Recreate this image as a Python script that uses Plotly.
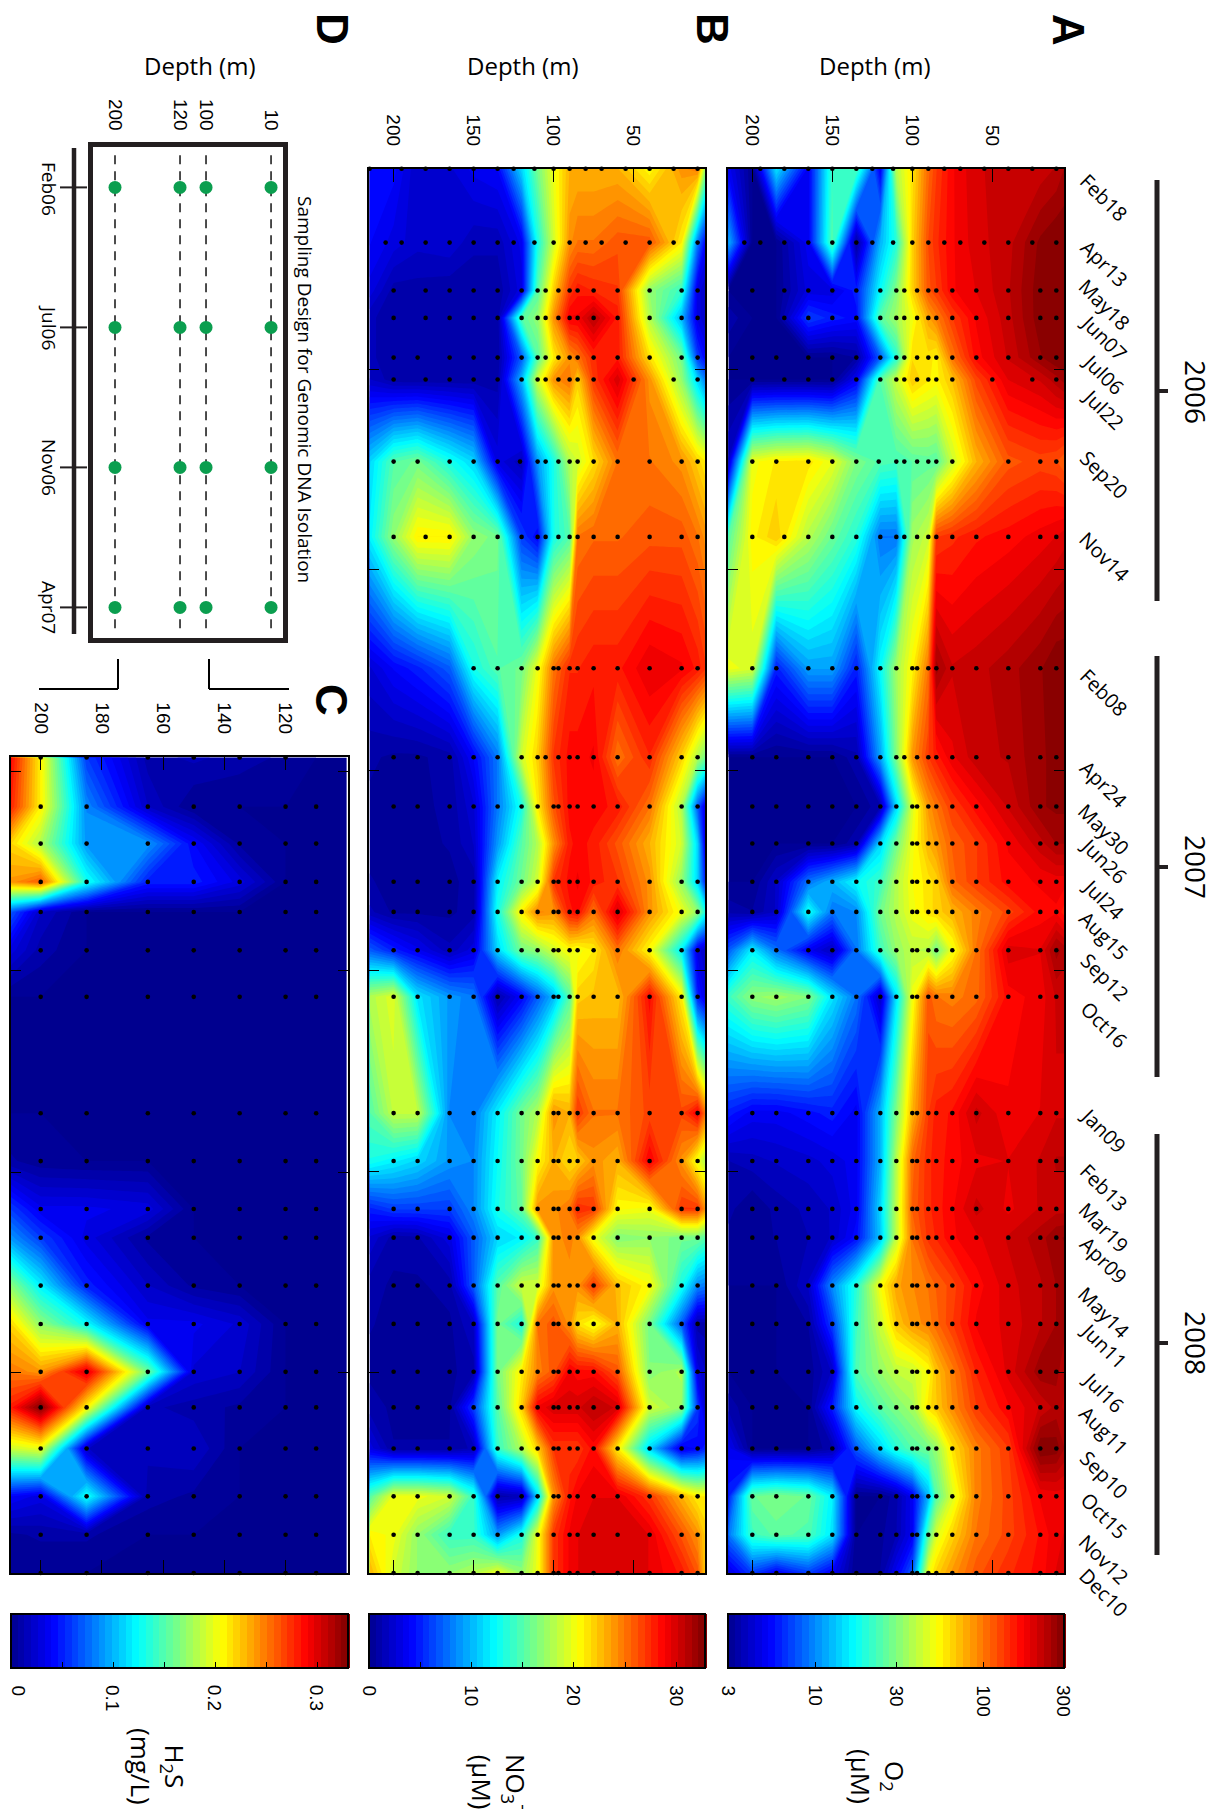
import math
import plotly.graph_objects as go

W, H = 1225, 1817
PAGE_MARGIN = 8

# ---------- data ----------
sample_labels = ["Feb18","Apr13","May18","Jun07","Jul06","Jul22","Sep20","Nov14",
                 "Feb08","Apr24","May30","Jun26","Jul24","Aug15","Sep12","Oct16",
                 "Jan09","Feb13","Mar19","Apr09","May14","Jun11","Jul16","Aug11",
                 "Sep10","Oct15","Nov12","Dec10"]
sample_days = [0,54,89,109,138,154,214,269,365,430,466,493,521,543,571,605,690,725,
               760,781,816,844,879,905,935,970,998,1026]
time_ticks = [146.5,293,440,586,733,879.5]
years = ["2006","2007","2008"]

grid_depths = [215,200,185,165,150,135,120,110,100,90,85,75,60,40,20,10,5]

o2 = [
 [5,3,15,5,22,24,5,38,60,105,170,205,215,215,230,250],
 [12,3,3,5,25,3.2,12,20,65,120,170,200,220,280,300,300],
 [3,3,3,4.5,4.5,6,17,30,65,115,170,190,225,290,300,300],
 [3.5,3,3,7,6,5.5,25,35,50,80,130,175,220,290,300,300],
 [3,3,3,3,3,3.3,8,20,62,60,100,165,210,270,300,300],
 [3,3,3,3,3,5,25,42,68,58,70,125,190,210,240,260],
 [4,50,58,60,48,30,24,23,25,26,42,75,115,125,120,110],
 [25,55,68,38,27,20,9,9,35,42,140,155,165,180,190,200],
 [50,45,6,11,11,6,17,35,55,100,210,220,240,270,300,300],
 [3,3,3,3,3,3.5,11,30,85,130,185,220,230,270,280,280],
 [3,3,3,3,3,3,3.5,14,45,85,130,165,210,270,280,280],
 [3,3,3,3,3,3.5,14,28,50,75,110,130,175,220,250,250],
 [3,3,4,9,12,17,22,38,52,60,105,130,165,175,180,180],
 [3.5,3.3,4,18,9,10,28,38,50,60,75,95,125,165,170,150],
 [8,16,9,5,3.8,9,22,33,40,38,50,100,200,190,260,240],
 [22,32,35,30,15,9,4,15,50,115,95,105,165,180,210,210],
 [6,5,5,5.5,6,5,12,30,75,130,160,215,175,190,205,205],
 [3.6,3.8,4,4.2,4.5,5,12,38,105,140,165,185,190,210,230,230],
 [3.4,3,3.4,3.7,4,5,14,40,110,140,170,215,185,210,220,220],
 [3.2,3.2,3.3,3.6,4,5.5,13,40,100,135,170,185,210,240,270,275],
 [3,3,3,4,10,20,52,80,90,100,125,165,200,225,250,260],
 [3,3,3,3.3,7,22,42,68,85,95,130,175,195,225,250,260],
 [3,3,3,3.1,4,24,33,40,42,52,95,145,195,265,260,230],
 [3.5,3,3,3,6,17,25,30,35,60,90,130,170,210,235,225],
 [5,3,3,3,3.5,8,14,20,25,28,60,95,130,300,290,250],
 [6,27,30,27,16,3,3,3.5,5,12,45,95,125,175,180,180],
 [9,22,26,24,15,3,3.2,3.6,5,25,65,100,125,160,185,190],
 [4.5,7,5,7,5,3,3.3,5,8,50,85,115,140,165,190,190],
]
o2_at_85m = [130,140,130,95,55,55,25,130,260,150,100,85,65,65,28,100,150,150,150,145,110,105,70,68,33,25,45,65]

no3 = [
 [4.5,4.2,2,2.5,3.5,4,11,16,20,23,23,23,20.5,24,25,17],
 [4,3,2.2,2.5,1.5,1.5,3.5,13,19,24,25,26,26,21,8,4],
 [3,1,1,.8,.8,.8,3,15,22,27,27.5,27,17,14,3,2],
 [1.5,.8,.8,.8,.8,.8,15,17,24,29,31,28,18,10,3,2],
 [1.5,.8,.8,.8,.8,.8,7,15,21,24,27.5,28,21.5,16,6,4],
 [2,.9,.8,.8,.8,1,10,19,24,25,27,30,24,17,11,8],
 [11,15,16,13,11,3,1.5,9,13,18,21.5,25,25,24,22,21],
 [12,17,21,21,17,16,6,4,13,15,25.5,25.5,26,26,25,24],
 [2.5,4,5,7,13,15,16,20,25,27.5,28,28,29.5,29,28,27],
 [.8,.5,.5,1,4,8,19,22,27,28.5,29,25,27.5,22,18,16],
 [.5,.5,.5,.8,2.5,8,13,21,26,28.5,28.5,28,25,18,7,3],
 [.5,.5,.5,.7,2,9,15,18,24,28,28,26,23,19,11,3],
 [.7,.5,.5,.5,.9,12,16,19,27,28.5,28,27,24,17,11,5],
 [1.5,.5,.5,.5,1,13,21,24.5,24,28,25,30,24,20,17,13],
 [7,5,3.5,1.5,3,11,16,17,19,20.5,21,25,20.5,12,3,2],
 [18,19.5,11.5,9,8,1,4,7,10,15,22.5,22.5,28.5,21,5,3],
 [15,18.5,18.5,8.5,8,12,16,18,24,23,25,25,26.5,26.5,29,25],
 [13,12,11,9,8.5,12.5,16,20.5,23,21.5,24,23,29,24,20,18],
 [5,6,6,6,8.5,13,15.5,24,24,25,27,20.5,20,27,27,24],
 [2.5,1,1.2,3,7,11,12,14,24,24.5,20,16.5,17,16,16,15],
 [1,.5,.5,1,7,15,19,19,24,24,27,22.5,20.5,13,8.5,8],
 [.7,.5,.5,.5,2,16,13,25,26,24,20,23,16,7,1,1],
 [.5,.5,.5,.5,1,16,21,24.5,26,29,28.5,26,16.5,18,3,2],
 [1,.5,.5,.5,6,15,22,29,30,30,31,30,19,17,6,2],
 [3,.7,.7,.7,1.5,14,18,22,27,27,28.5,21,11,3,4,5],
 [15,20,20,19,14,1,1.5,11,24,28,29.5,29.5,27,23,21,21],
 [21,20,17,14,14,9,13,20,27,29,30,30,29.5,26,24,22],
 [23,19,17,17,18,20,17,20,27,29,30,30,29.5,28,26,22],
]
no3_at_85m = [23,25,28,29,25,22,19,25,27.5,28.5,28.5,28.5,29,28.5,20,22,27,22,27.5,24,24,21.5,28.5,30,27,29,29.5,29.5]

h2s_depths = [210,200,185,165,150,135,120,110,100]
h2s_days = sample_days[9:]
h2s = [
 [.29,.21,.06,.01,.015,.01,.005,0,0],
 [.28,.21,.085,.02,0,0,0,0,0],
 [.22,.18,.09,.09,.04,.005,0,0,0],
 [.24,.26,.13,.05,.05,.03,0,0,0],
 [.07,.02,0,0,0,0,0,0,0],
 [.03,.01,0,0,0,0,0,0,0],
 [0,0,0,0,0,0,0,0,0],
 [0,0,0,0,0,0,0,0,0],
 [.008,.002,0,0,0,0,0,0,0],
 [.06,.035,.035,.03,0,0,0,0,0],
 [.09,.06,.03,.005,0,0,0,0,0],
 [.17,.12,.05,.02,.005,0,0,0,0],
 [.22,.17,.125,.035,.035,.025,0,0,0],
 [.25,.24,.30,.16,.025,.02,0,0,0],
 [.28,.33,.21,.015,.01,.005,0,0,0],
 [.19,.20,.02,.015,.02,0,0,0,0],
 [.04,.03,.13,.01,.005,0,0,0,0],
 [.005,.008,.008,0,0,0,0,0,0],
 [0,0,0,0,0,0,0,0,0],
]

STD = [200,185,165,150,135,120,110,100,97,90,85,75,60,40,20,10]
FEB06 = [195,180,165,150,135,125,112,100,90,80,70,55,40,25,10]
APR06 = [205,195,180,165,150,135,125,112,100,90,80,70,55,40,25,10]
MAY06 = [200,180,165,150,135,120,110,105,97,90,85,75,60,40,20,10,5]
JUN06 = [180,165,150,135,120,110,105,97,90,85,75,60,40,20,10,5]
JUL06 = [200,185,165,150,135,120,110,105,97,90,85,75,60,40,20,10,5]
JUL22 = [200,180,165,150,135,120,110,105,97,90,85,75,50,25,10,5]
SEP06 = [200,185,165,150,135,121,110,105,97,90,85,75,40,20,10]
NOV06 = [200,180,165,150,135,120,110,105,97,90,85,75,60,40,20,10]
APR07 = [200,185,165,150,135,120,110,105,97,90,85,75,60,40,20,10]
o2_samples = [FEB06,APR06,MAY06,JUN06,JUL06,JUL22,SEP06,NOV06,STD,APR07]+[STD]*18
no3_samples = [[215]+FEB06,APR06,MAY06,[200]+JUN06,JUL06,JUL22,
               [200,185,165,150,135,121,110,105,97,90,85,75,60,40,20,10],NOV06,
               STD[3:],APR07,STD,[],STD,STD,STD,STD]+[STD]*10+[[d for d in STD if d!=97],STD]
h2s_sample_depths = [200,185,165,150,135,120,110]

o2_bar_values = [3,10,30,100,300]
no3_bar_ticks = [0,5,10,15,20,25,30]
no3_bar_labels = [0,10,20,30]
h2s_bar_ticks = [0,.05,.1,.15,.2,.25,.3]
h2s_bar_labels = [0,.1,.2,.3]

design_depth_labels = ["200","120","100","10"]
design_depth_pos = [0,2.5,3.5,6]
design_dates = ["Feb06","Jul06","Nov06","Apr07"]
design_rows = [0,1,2,3]

# ---------- helpers ----------
jet = [[0,"rgb(0,0,143)"],[.125,"rgb(0,0,255)"],[.375,"rgb(0,255,255)"],
       [.625,"rgb(255,255,0)"],[.875,"rgb(255,0,0)"],[1,"rgb(128,0,0)"]]
INK = "#111111"
FW, FH = W-2*PAGE_MARGIN, H-2*PAGE_MARGIN     # the page body keeps an 8 px margin
fx = lambda px: (px-PAGE_MARGIN)/FW
fy = lambda py: 1-(py-PAGE_MARGIN)/FH

def with_85m(rows, col):
    return [r[:10]+[v]+r[10:] for r, v in zip(rows, col)]

def colorbar(x0, x1, vals):
    return dict(orientation="h", x=fx((x0+x1)/2), xanchor="center", y=fy(1614), yanchor="top",
                thickness=54, thicknessmode="pixels", len=x1-x0, lenmode="pixels",
                xpad=0, ypad=0, outlinewidth=2, outlinecolor="black",
                tickmode="array", tickvals=vals, showticklabels=False,
                ticks="inside", ticklen=7, tickcolor="black", tickwidth=1)

def contour(x, y, z, zmin, zmax, ax, ay, cb):
    return go.Contour(x=x[::-1], y=y, z=[r[::-1] for r in z], xaxis=ax, yaxis=ay,
                      zmin=zmin, zmax=zmax, zauto=False, colorscale=jet,
                      contours=dict(start=zmin, end=zmax, size=(zmax-zmin)/50,
                                    coloring="fill", showlines=False),
                      line=dict(width=0, smoothing=0), colorbar=cb,
                      hoverinfo="skip", showlegend=False)

def dots(rows, lists, ax, ay):
    xs, ys = [], []
    for d, lst in zip(rows, lists):
        for v in lst:
            xs.append(v); ys.append(d)
    return go.Scatter(x=xs, y=ys, xaxis=ax, yaxis=ay, mode="markers", cliponaxis=False,
                      marker=dict(color="black", size=4.6, line=dict(width=0)),
                      hoverinfo="skip", showlegend=False)

fig = go.Figure()
fig.add_trace(contour(grid_depths, sample_days,
                      [[math.log10(v) for v in r] for r in with_85m(o2, o2_at_85m)],
                      math.log10(3), math.log10(300), "x", "y",
                      colorbar(728, 1064, [math.log10(v) for v in o2_bar_values])))
fig.add_trace(dots(sample_days, o2_samples, "x", "y"))
fig.add_trace(contour(grid_depths, sample_days, with_85m(no3, no3_at_85m), 0, 32.8, "x2", "y2",
                      colorbar(369, 705, no3_bar_ticks)))
fig.add_trace(dots(sample_days, no3_samples, "x2", "y2"))
fig.add_trace(contour(h2s_depths, h2s_days, h2s, 0, .33, "x3", "y3",
                      colorbar(11, 348, h2s_bar_ticks)))
fig.add_trace(dots(h2s_days, [h2s_sample_depths[:-1]]+[h2s_sample_depths]*18, "x3", "y3"))

for p in design_depth_pos:
    fig.add_trace(go.Scatter(x=[p,p], y=[-.23,3.16], xaxis="x4", yaxis="y4", mode="lines",
                             line=dict(color="black", width=1.4, dash="9px,7px"),
                             hoverinfo="skip", showlegend=False))
fig.add_trace(go.Scatter(x=[p for p in design_depth_pos for _ in design_rows],
                         y=[r for _ in design_depth_pos for r in design_rows],
                         xaxis="x4", yaxis="y4", mode="markers",
                         marker=dict(color="#0b9e4f", size=13, line=dict(width=0)),
                         hoverinfo="skip", showlegend=False))

def xaxis(x0, x1, rng, vals, anchor, standoff=14, ticklen=13):
    return dict(domain=[fx(x0), fx(x1)], range=rng, side="top", anchor=anchor,
                tickmode="array", tickvals=vals, ticktext=[str(v) for v in vals],
                tickangle=90, ticks="inside", ticklen=ticklen, tickwidth=1, tickcolor="black",
                showline=True, linecolor="black", linewidth=2, mirror="ticks",
                showgrid=False, zeroline=False, ticklabelstandoff=standoff,
                tickfont=dict(family="Liberation Sans", size=19, color="black"))

def yaxis(y0, y1, rng, anchor):
    return dict(domain=[fy(y1), fy(y0)], range=rng, anchor=anchor, tickmode="array",
                tickvals=time_ticks, showticklabels=False, ticks="inside", ticklen=10,
                tickwidth=1, tickcolor="black", showline=True, linecolor="black",
                linewidth=2, mirror="ticks", showgrid=False, zeroline=False)

layout = dict(
    width=FW, height=FH, margin=dict(l=0, r=0, t=0, b=0), autosize=False,
    paper_bgcolor="white", plot_bgcolor="white", showlegend=False,
    xaxis=xaxis(728, 1064, [215.2, 5.2], [50,100,150,200], "y"),
    yaxis=yaxis(168.7, 1573, [1026, 0], "x"),
    xaxis2=xaxis(369.3, 705.3, [215.2, 5.2], [50,100,150,200], "y2"),
    yaxis2=yaxis(168.7, 1573, [1026, 0], "x2"),
    xaxis3=xaxis(11, 348, [209.7, 99.6], [120,140,160,180,200], "y3"),
    yaxis3=yaxis(756.7, 1573, [1026, 429.5], "x3"),
    xaxis4=dict(domain=[fx(93), fx(283)], range=[-.846, 6.46], side="top", anchor="y4",
                tickmode="array", tickvals=design_depth_pos, ticktext=design_depth_labels,
                tickangle=90, ticks="", showline=True, linecolor="#231f20", linewidth=4.5,
                mirror=True, showgrid=False, zeroline=False, ticklabelstandoff=5,
                tickfont=dict(family="Liberation Sans", size=19, color="black")),
    yaxis4=dict(domain=[fy(637.5), fy(147)], range=[3.215, -.289], anchor="x4",
                showticklabels=False, ticks="", showline=True, linecolor="#231f20",
                linewidth=4.5, mirror=True, showgrid=False, zeroline=False),
)

# ---------- page furniture ----------
def line(x0, y0, x1, y1, w, c=INK):
    return dict(type="line", xref="paper", yref="paper", x0=fx(x0), y0=fy(y0), x1=fx(x1), y1=fy(y1),
                line=dict(color=c, width=w))

shapes = []
for y0, y1, yc in [(180,601,391),(656,1077,867),(1134,1555,1343)]:
    shapes.append(line(1157, y0, 1157, y1, 5, "#231f20"))
    shapes.append(line(1157, yc, 1168, yc, 4, "#231f20"))
shapes.append(line(74, 148, 74, 634, 4.5, "#231f20"))
for yc in (187.4, 327.4, 467.4, 607.4):
    shapes.append(line(60, yc, 87, yc, 2, "#231f20"))
shapes += [line(39,689,118,689,2,"black"), line(118,659,118,689,2,"black"),
           line(209,689,289,689,2,"black"), line(209,659,209,689,2,"black")]
layout["shapes"] = shapes

def ann(text, x, y, size, angle=0, family="Open Sans", bold=False, yanchor="middle"):
    return dict(text=f"<b>{text}</b>" if bold else text, x=fx(x), y=fy(y), xref="paper", yref="paper",
                xanchor="center", yanchor=yanchor, showarrow=False, textangle=angle,
                font=dict(family=family, size=size, color="black"))

anns = []
label_y = [175,242,283,315,352,387,452,535,670,762,807,838,877,913,955,1002,1108,1165,1205,1238,1290,1323,1370,1408,1452,1493,1537,1570]
for t, y in zip(sample_labels, label_y):
    anns.append(ann(t, 1104, y+22, 20, 45))
for t, y in zip(years, (392, 867, 1343)):
    anns.append(ann(t, 1196, y, 28, 90))
for x, y, t in [(1068,30,"A"),(712,29,"B"),(332,700,"C"),(332,29,"D")]:
    anns.append(ann(t, x, y, 44, 90, "Liberation Sans", True))
for x in (874, 522, 199.5):
    anns.append(ann("Depth (m)", x, 66, 24))
for t, y in zip(design_dates, (189, 327, 467, 607)):
    anns.append(ann(t, 49, y, 19, 90))
anns.append(ann("Sampling Design for Genomic DNA Isolation", 305, 389, 19, 90))
anns.append(ann("O<sub>2</sub><br>(µM)", 878, 1776, 26, 90))
anns.append(ann("NO<sub>3</sub><sup>-</sup><br>(µM)", 500, 1782, 26, 90))
anns.append(ann("H<sub>2</sub>S<br>(mg/L)", 158, 1766, 26, 90))

# colour-bar tick labels, placed through each bar's own value scale
def bar_x(v, vmin, vmax, x0, x1):
    return x0+(v-vmin)/(vmax-vmin)*(x1-x0)
for v in o2_bar_values:
    anns.append(ann(str(v), bar_x(math.log10(v), math.log10(3), math.log10(300), 728, 1064), 1683, 19, 90,
                    "Liberation Sans", yanchor="top"))
for v in no3_bar_labels:
    anns.append(ann(str(v), bar_x(v, 0, 32.8, 369, 705), 1683, 19, 90, "Liberation Sans", yanchor="top"))
for v in h2s_bar_labels:
    # the leftmost label is nudged clear of the page margin so that it is not cut
    x = max(bar_x(v, 0, .33, 11, 348), 18)
    anns.append(ann(f"{v:g}", x, 1683, 19, 90, "Liberation Sans", yanchor="top"))
layout["annotations"] = anns

fig.update_layout(**layout)
fig.write_html("out.html")
